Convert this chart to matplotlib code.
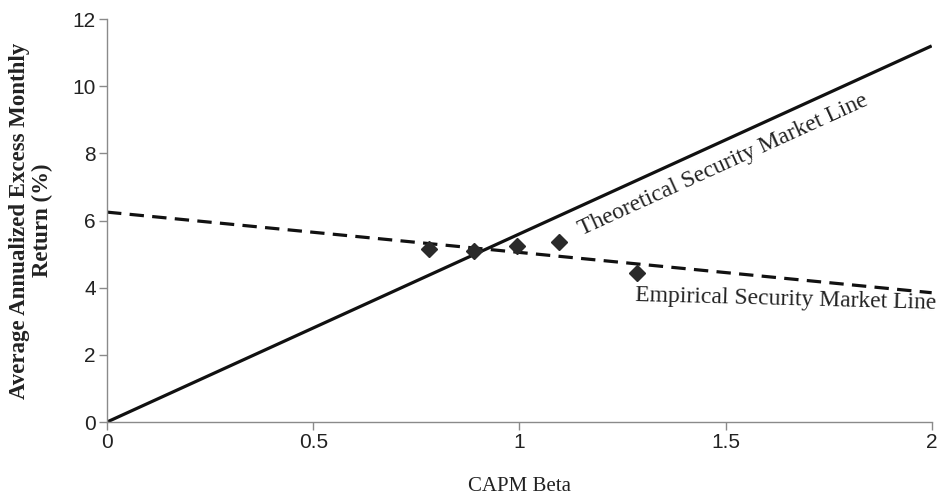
import matplotlib
matplotlib.use('Agg')
import matplotlib.pyplot as plt
import numpy as np

# security market lines (endpoints)
beta_line = [0.0, 2.0]
theoretical = [0.0, 11.2]
empirical = [6.25, 3.85]

# portfolio points
beta_pts = [0.78, 0.89, 0.995, 1.095, 1.285]
ret_pts = [5.15, 5.10, 5.24, 5.36, 4.43]

serif = ['Liberation Serif', 'DejaVu Serif']
sans = ['Liberation Sans', 'DejaVu Sans']

fig = plt.figure(figsize=(9.43, 4.98), dpi=100)
ax = fig.add_axes([0.1135, 0.1526, 0.8745, 0.8092])

ax.plot(beta_line, theoretical, color='#111111', lw=2.3, solid_capstyle='butt')
ax.plot(beta_line, empirical, color='#111111', lw=2.3, dashes=(4.5, 2.6))
ax.plot(beta_pts, ret_pts, 'D', color='#2a2a2a', markersize=8.5, ls='none')

ax.set_xlim(0, 2)
ax.set_ylim(0, 12)
ax.set_xticks([0, 0.5, 1, 1.5, 2])
ax.set_xticklabels(['0', '0.5', '1', '1.5', '2'])
ax.set_yticks(range(0, 13, 2))

for s in ['top', 'right']:
    ax.spines[s].set_visible(False)
for s in ['left', 'bottom']:
    ax.spines[s].set_color('#8a8a8a')
    ax.spines[s].set_linewidth(1.0)
ax.tick_params(colors='#8a8a8a', length=6, width=1.0, labelcolor='#222222', labelsize=15)
ax.tick_params(axis='x', pad=2)
ax.tick_params(axis='y', pad=2)
for lab in ax.get_xticklabels() + ax.get_yticklabels():
    lab.set_family(sans)

ax.set_xlabel('CAPM Beta', family=serif, fontsize=15, color='#222222', labelpad=18)
ax.set_ylabel('Average Annualized Excess Monthly\nReturn (%)', family=serif,
              fontsize=16.5, fontweight='bold', color='#222222', labelpad=14,
              linespacing=1.1)

ax.text(1.495, 7.66, 'Theoretical Security Market Line', family=serif, fontsize=17,
        rotation=24.5, rotation_mode='anchor', ha='center', va='center', color='#222222')
ax.text(1.645, 3.66, 'Empirical Security Market Line', family=serif, fontsize=17,
        rotation=-1.5, rotation_mode='anchor', ha='center', va='center', color='#222222')

fig.savefig('out.png', dpi=100)
